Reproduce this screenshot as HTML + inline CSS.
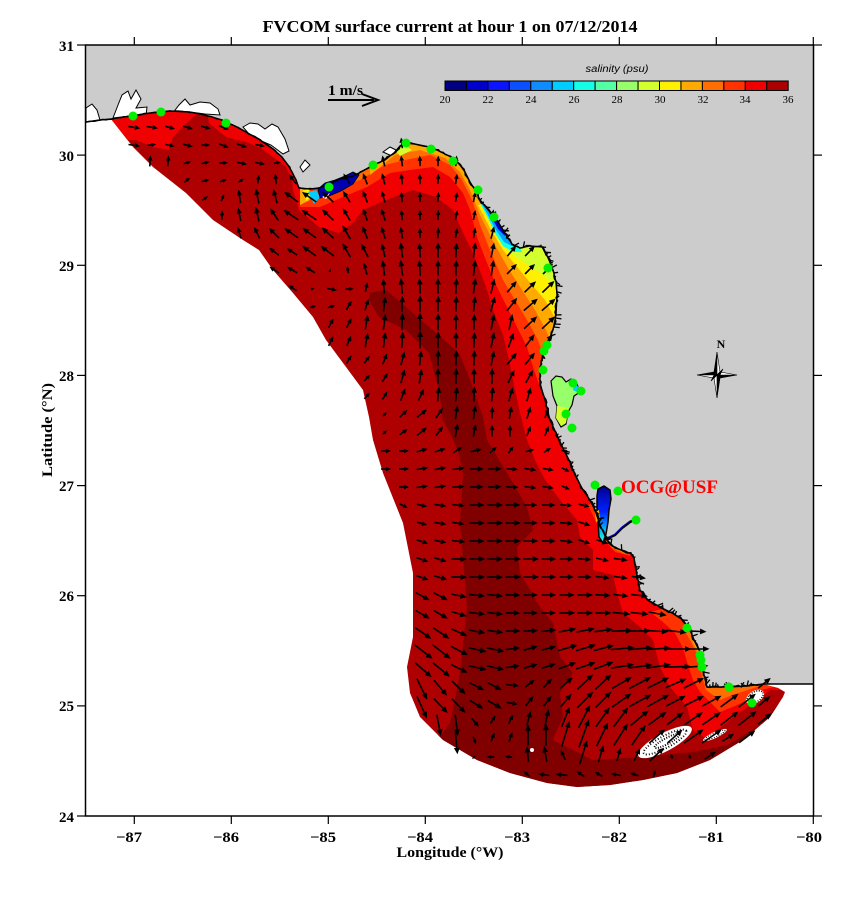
<!DOCTYPE html>
<html>
<head>
<meta charset="utf-8">
<style>
html,body{margin:0;padding:0;background:#fff;}
svg{display:block;}
text{font-family:"Liberation Serif",serif;}
.sans{font-family:"Liberation Sans",sans-serif;}
</style>
</head>
<body>
<svg id="svg" width="857" height="907" viewBox="0 0 857 907" xmlns="http://www.w3.org/2000/svg">
<defs>
<clipPath id="domclip">
<polygon points="111,119 130,116 150,113 170,111 190,112 205,115 219,119 235,126 246,132 260,140 273,149 282,157 288,165 292,172 296,180 299,188 310,189 319,188 329,184 340,179 353,176 363,171 373,165 385,160 395,152 400,146 405,143 415,144 425,146 433,148 443,153 453,158 460,165 465,172 470,182 475,190 480,200 490,212 500,225 506,235 512,244 520,248 530,246 543,247 549,260 553,270 556,282 557,295 556,315 553,330 547,345 542,358 540,370 540,385 545,400 550,420 557,435 563,448 570,462 575,475 583,490 590,500 595,510 600,525 607,540 615,548 625,551 633,555 636,570 640,590 648,600 660,607 672,613 683,620 690,630 695,642 700,652 703,663 704,675 707,687 727,687 747,686 763,684 770,686 778,688 785,692 783,697 770,717 743,740 710,760 677,773 643,780 610,785 577,787 547,783 510,773 477,760 443,740 420,717 410,693 407,667 413,637 413,573 403,523 383,473 373,440 369,417 363,390 346,367 326,340 313,317 293,293 273,270 259,250 243,240 213,220 186,193 153,167 133,147"/>
</clipPath>
<clipPath id="plotclip"><rect x="86" y="45" width="727" height="771"/></clipPath>
<linearGradient id="chg" x1="0" y1="0" x2="0" y2="1">
<stop offset="0" stop-color="#000090"/>
<stop offset="0.45" stop-color="#0020ff"/>
<stop offset="0.75" stop-color="#00b0ff"/>
<stop offset="1" stop-color="#30ffd0"/>
</linearGradient>
</defs>

<text x="450" y="32" font-size="17" font-weight="bold" text-anchor="middle" textLength="375" lengthAdjust="spacingAndGlyphs">FVCOM surface current at hour 1 on 07/12/2014</text>

<g clip-path="url(#plotclip)">
<polygon points="86,45 86,122 100,120 111,119 130,116 150,113 170,111 190,112 205,115 219,119 235,126 246,132 260,140 273,149 282,157 288,165 292,172 296,180 299,188 310,189 319,188 329,184 340,179 353,176 363,171 373,165 385,160 395,152 400,146 405,143 415,144 425,146 433,148 443,153 453,158 460,165 465,172 470,182 475,190 480,200 490,212 500,225 506,235 512,244 520,248 530,246 543,247 549,260 553,270 556,282 557,295 556,315 553,330 547,345 542,358 540,370 540,385 545,400 550,420 557,435 563,448 570,462 575,475 583,490 590,500 595,510 600,525 607,540 615,548 625,551 633,555 636,570 640,590 648,600 660,607 672,613 683,620 690,630 695,642 700,652 703,663 704,675 707,687 727,687 747,686 763,684 813,684 813,45" fill="#cccccc"/>

<g fill="#fff" stroke="#000" stroke-width="1">
<polygon points="86,108 92,104 97,110 100,120 86,122"/>
<polygon points="113,118 118,105 122,95 128,91 131,99 136,90 141,99 136,108 147,107 146,116 130,116"/>
<polygon points="172,114 179,105 185,99 190,105 200,102 210,103 218,109 220,115 205,114 190,112"/>
<polygon points="243,127 250,123 258,124 265,129 272,124 278,127 285,139 289,151 283,154 271,145 259,140 249,134"/>
<polygon points="300,167 305,160 310,165 303,172"/>
<polygon points="383,152 390,147 396,150 392,156"/>
</g>

<g clip-path="url(#domclip)">
<rect x="86" y="45" width="727" height="771" fill="#ae0000"/>
<polygon fill="#800000" points="369,293 386,290 406,307 436,333 459,353 469,377 483,417 487,440 507,473 527,507 533,530 517,547 520,573 540,607 553,623 560,657 573,673 560,693 563,717 553,740 593,760 643,757 693,752 727,745 760,725 780,702 790,695 800,800 400,800 415,722 440,736 450,723 460,673 467,607 460,523 463,473 458,450 443,420 439,390 429,353 406,330 379,317 369,300"/>
<polygon fill="#f00000" points="100,105 200,105 200,112 193,117 183,127 173,137 169,150 153,147 136,140 119,140 108,128"/>
<polygon fill="#f00000" points="205,100 209,123 226,137 246,142 259,147 273,157 286,167 292,180 293,190 299,210 319,227 339,233 353,223 363,210 386,200 413,190 436,197 453,210 463,233 473,253 486,287 493,310 503,335 509,360 515,390 520,413 527,440 535,460 545,480 560,500 577,520 580,537 593,550 593,570 613,575 617,593 623,613 640,627 653,640 660,667 670,687 687,707 693,730 705,738 720,728 740,712 755,702 770,690 820,690 820,100"/>
<polygon fill="#ff3200" points="300,183 300,207 320,207 343,197 367,187 390,173 410,170 433,167 450,177 463,193 470,210 477,237 487,263 497,287 507,307 517,327 527,347 533,367 540,387 600,387 600,100 300,100"/>
<polygon fill="#ff3200" points="650,612 663,622 675,633 683,648 688,665 693,680 700,692 720,712 735,706 750,699 762,690 800,680 700,600"/>
<polygon fill="#ff3200" points="588,505 596,522 604,540 615,552 630,556 640,540 600,500"/>
<polygon fill="#ff6e00" points="330,190 360,180 385,165 405,160 430,155 450,165 462,180 472,200 480,225 492,255 503,280 515,300 527,320 538,340 545,360 600,360 600,100 330,100"/>
<polygon fill="#ff6e00" points="683,628 690,640 696,652 700,664 702,676 706,690 720,700 735,694 760,686 710,620"/>
<polygon fill="#ff6e00" points="597,520 603,535 612,548 625,554 630,545 605,515"/>
<polygon fill="#ffaa00" points="370,175 395,155 420,150 445,158 460,172 470,190 480,215 495,245 508,268 522,290 535,310 546,330 552,345 600,345 600,100 370,100"/>
<polygon fill="#ffaa00" points="692,640 698,652 702,664 704,676 720,676 700,630"/>
<polygon fill="#ffaa00" points="300,186 306,186 310,200 300,205"/>
<polygon fill="#fff000" points="478,205 490,228 503,250 518,268 532,285 545,300 555,318 600,318 600,180"/>
<polygon fill="#fff000" points="698,650 702,660 703,670 712,668 705,645"/>
<polygon fill="#fff000" points="303,190 309,188 311,197 306,201"/>
<polygon fill="#d2ff2d" points="498,240 513,255 528,265 543,275 556,288 600,288 600,230"/>
<polygon fill="#d2ff2d" points="395,150 405,145 412,150 400,156"/>
<polygon fill="#14ffe6" points="480,203 488,218 495,233 503,246 513,252 522,252 512,232 502,215 492,203"/>
<polygon fill="#00a0ff" points="482,204 489,217 496,230 504,242 512,246 506,230 498,215 490,204"/>
<polygon fill="#0000cd" points="486,206 492,218 498,229 505,236 502,222 496,210"/>
<polygon fill="#00cdff" points="308,192 316,190 320,197 314,204"/>
</g>

<polygon fill="#0000b0" stroke="#000" stroke-width="0.8" points="318,189 325,183 335,180 345,176 353,172 359,175 353,184 341,191 329,196 320,198"/>
<polygon fill="#fff" points="322,197 330,193 326,199"/>
<!-- Tampa bay -->
<polygon fill="#96ff69" stroke="#000" stroke-width="1.2" points="551,381 556,376 562,377 566,382 571,379 577,384 580,392 574,396 572,405 568,412 566,424 561,427 556,418 557,406 553,396"/>
<polygon fill="#d2ff2d" points="557,406 569,408 566,423 561,426 556,418"/>
<polygon fill="#00cdff" points="574,384 579,387 577,392 573,390"/>
<!-- Charlotte harbor -->
<polygon fill="url(#chg)" stroke="#000" stroke-width="1.5" points="598,489 604,486 610,490 611,499 609,510 608,522 606,534 603,543 599,537 598,522 597,508 597,496"/>
<polyline fill="none" stroke="#000" stroke-width="2.5" points="604,540 615,535 622,528 630,522 636,519"/>
<polyline fill="none" stroke="#0000cd" stroke-width="1" points="606,539 615,534 622,527 630,521"/>
<polygon fill="#ffaa00" points="595,512 599,510 600,520 596,522"/>

<g fill="#fff">
<ellipse cx="665" cy="742" rx="30" ry="9" transform="rotate(-28 665 742)"/>
<ellipse cx="715" cy="735" rx="13" ry="3" transform="rotate(-25 715 735)"/>
<ellipse cx="755" cy="697" rx="10" ry="6" transform="rotate(-30 755 697)"/>
<circle cx="532" cy="750" r="2"/>
</g>
<g fill="none" stroke="#000">
<ellipse cx="665" cy="742" rx="24" ry="6" transform="rotate(-28 665 742)" stroke-width="2" stroke-dasharray="1 2"/>
<ellipse cx="667" cy="741" rx="14" ry="3" transform="rotate(-28 667 741)" stroke-width="2" stroke-dasharray="1 1.5"/>
<ellipse cx="715" cy="735" rx="11" ry="2" transform="rotate(-25 715 735)" stroke-width="1" stroke-dasharray="1 1.5"/>
<ellipse cx="755" cy="697" rx="9" ry="5" transform="rotate(-30 755 697)" stroke-width="1.5" stroke-dasharray="1 1.5"/>
</g>

<!-- coastline (jagged generated) -->
<polyline id="coastbase" fill="none" stroke="#000" stroke-width="1.4" stroke-linejoin="round" points="86,122 100,120 111,119 130,116 150,113 170,111 190,112 205,115 219,119 235,126 246,132 260,140 273,149 282,157 288,165 292,172 296,180 299,188 310,189 319,188 329,184 340,179 353,176 363,171 373,165 385,160 395,152 400,146 405,143 415,144 425,146 433,148 443,153 453,158 460,165 465,172 470,182 475,190 480,200 490,212 500,225 506,235 512,244 520,248 530,246 543,247 549,260 553,270 556,282 557,295 556,315 553,330 547,345 542,358 540,370 540,385 545,400 550,420 557,435 563,448 570,462 575,475 583,490 590,500 595,510 600,525 607,540 615,548 625,551 633,555 636,570 640,590 648,600 660,607 672,613 683,620 690,630 695,642 700,652 703,663 704,675 707,687 727,687 747,686 763,684 813,684"/>
<g id="coastjag"></g>

<g id="arrows"></g>

<g fill="#00f000">
<circle cx="133" cy="116" r="4.5"/><circle cx="161" cy="112" r="4.5"/><circle cx="226" cy="123" r="4.5"/>
<circle cx="329" cy="187" r="4.5"/><circle cx="373" cy="165" r="4.5"/><circle cx="406" cy="143" r="4.5"/>
<circle cx="431" cy="149" r="4.5"/><circle cx="453" cy="161" r="4.5"/><circle cx="478" cy="190" r="4.5"/>
<circle cx="494" cy="217" r="4.5"/><circle cx="548" cy="268" r="4.5"/><circle cx="547" cy="345" r="4.5"/>
<circle cx="544" cy="351" r="4.5"/><circle cx="543" cy="370" r="4.5"/><circle cx="573" cy="383" r="4.5"/>
<circle cx="581" cy="391" r="4.5"/><circle cx="566" cy="414" r="4.5"/><circle cx="572" cy="428" r="4.5"/>
<circle cx="595" cy="485" r="4.5"/><circle cx="618" cy="491" r="4.5"/><circle cx="636" cy="520" r="4.5"/>
<circle cx="687" cy="628" r="4.5"/><circle cx="700" cy="655" r="4.5"/><circle cx="701" cy="660" r="4.5"/>
<circle cx="702" cy="667" r="4.5"/><circle cx="729" cy="687" r="4.5"/><circle cx="752" cy="703" r="4.5"/>
</g>
</g>

<text x="621" y="493" font-size="19" font-weight="bold" fill="#ff0000" textLength="97" lengthAdjust="spacingAndGlyphs">OCG@USF</text>

<text x="328" y="95" font-size="15" font-weight="bold" textLength="35" lengthAdjust="spacingAndGlyphs">1 m/s</text>
<line x1="328" y1="100" x2="374" y2="100" stroke="#000" stroke-width="2"/>
<polyline points="362,94 378,100 362,106" fill="none" stroke="#000" stroke-width="2"/>

<text x="617" y="72" font-size="10" font-style="italic" class="sans" text-anchor="middle" textLength="63" lengthAdjust="spacingAndGlyphs">salinity (psu)</text>
<g stroke="#000" stroke-width="1">
<rect x="445" y="81" width="21.45" height="9.5" fill="#000080"/>
<rect x="466.45" y="81" width="21.45" height="9.5" fill="#0000cd"/>
<rect x="487.9" y="81" width="21.45" height="9.5" fill="#0a14ff"/>
<rect x="509.35" y="81" width="21.45" height="9.5" fill="#0a50ff"/>
<rect x="530.8" y="81" width="21.45" height="9.5" fill="#0f8cff"/>
<rect x="552.25" y="81" width="21.45" height="9.5" fill="#00cdff"/>
<rect x="573.7" y="81" width="21.45" height="9.5" fill="#14ffe6"/>
<rect x="595.15" y="81" width="21.45" height="9.5" fill="#55ffa5"/>
<rect x="616.6" y="81" width="21.45" height="9.5" fill="#96ff69"/>
<rect x="638.05" y="81" width="21.45" height="9.5" fill="#d2ff2d"/>
<rect x="659.5" y="81" width="21.45" height="9.5" fill="#fff000"/>
<rect x="680.95" y="81" width="21.45" height="9.5" fill="#ffaa00"/>
<rect x="702.4" y="81" width="21.45" height="9.5" fill="#ff6e00"/>
<rect x="723.85" y="81" width="21.45" height="9.5" fill="#ff3200"/>
<rect x="745.3" y="81" width="21.45" height="9.5" fill="#f00000"/>
<rect x="766.75" y="81" width="21.45" height="9.5" fill="#aa0000"/>
</g>
<g font-size="11" class="sans" text-anchor="middle">
<text x="445" y="103">20</text><text x="488" y="103">22</text><text x="531" y="103">24</text>
<text x="574" y="103">26</text><text x="617" y="103">28</text><text x="660" y="103">30</text>
<text x="703" y="103">32</text><text x="745" y="103">34</text><text x="788" y="103">36</text>
</g>

<g stroke="#000" stroke-width="0.6">
<polygon points="717,352 714,372 717,375" fill="#000"/>
<polygon points="717,352 720,372 717,375" fill="#fff"/>
<polygon points="717,398 720,378 717,375" fill="#000"/>
<polygon points="717,398 714,378 717,375" fill="#fff"/>
<polygon points="737,375 720,378 717,375" fill="#000"/>
<polygon points="737,375 720,372 717,375" fill="#fff"/>
<polygon points="697,375 714,372 717,375" fill="#000"/>
<polygon points="697,375 714,378 717,375" fill="#fff"/>
<polygon points="717,375 723,369 720,375" fill="#000"/>
<polygon points="717,375 711,381 714,375" fill="#000"/>
</g>
<text x="721" y="348" font-size="12" font-weight="bold" text-anchor="middle">N</text>

<g stroke="#000" stroke-width="1.5" fill="none">
<rect x="85.5" y="45" width="728" height="771"/>
</g>
<g stroke="#000" stroke-width="1.2">
<line x1="134.3" y1="816" x2="134.3" y2="824"/><line x1="231.3" y1="816" x2="231.3" y2="824"/>
<line x1="328.3" y1="816" x2="328.3" y2="824"/><line x1="425.3" y1="816" x2="425.3" y2="824"/>
<line x1="522.3" y1="816" x2="522.3" y2="824"/><line x1="619.3" y1="816" x2="619.3" y2="824"/>
<line x1="716.3" y1="816" x2="716.3" y2="824"/><line x1="813.3" y1="816" x2="813.3" y2="824"/>
<line x1="134.3" y1="45" x2="134.3" y2="37"/><line x1="231.3" y1="45" x2="231.3" y2="37"/>
<line x1="328.3" y1="45" x2="328.3" y2="37"/><line x1="425.3" y1="45" x2="425.3" y2="37"/>
<line x1="522.3" y1="45" x2="522.3" y2="37"/><line x1="619.3" y1="45" x2="619.3" y2="37"/>
<line x1="716.3" y1="45" x2="716.3" y2="37"/><line x1="813.3" y1="45" x2="813.3" y2="37"/>
<line x1="77" y1="45" x2="85" y2="45"/><line x1="77" y1="155.1" x2="85" y2="155.1"/>
<line x1="77" y1="265.3" x2="85" y2="265.3"/><line x1="77" y1="375.4" x2="85" y2="375.4"/>
<line x1="77" y1="485.6" x2="85" y2="485.6"/><line x1="77" y1="595.7" x2="85" y2="595.7"/>
<line x1="77" y1="705.9" x2="85" y2="705.9"/><line x1="77" y1="816" x2="85" y2="816"/>
<line x1="814" y1="45" x2="822" y2="45"/><line x1="814" y1="155.1" x2="822" y2="155.1"/>
<line x1="814" y1="265.3" x2="822" y2="265.3"/><line x1="814" y1="375.4" x2="822" y2="375.4"/>
<line x1="814" y1="485.6" x2="822" y2="485.6"/><line x1="814" y1="595.7" x2="822" y2="595.7"/>
<line x1="814" y1="705.9" x2="822" y2="705.9"/><line x1="814" y1="816" x2="822" y2="816"/>
</g>
<g font-size="15" font-weight="bold" text-anchor="middle">
<text x="129" y="842" textLength="26" lengthAdjust="spacingAndGlyphs">−87</text>
<text x="226" y="842" textLength="26" lengthAdjust="spacingAndGlyphs">−86</text>
<text x="323" y="842" textLength="26" lengthAdjust="spacingAndGlyphs">−85</text>
<text x="420" y="842" textLength="26" lengthAdjust="spacingAndGlyphs">−84</text>
<text x="517" y="842" textLength="26" lengthAdjust="spacingAndGlyphs">−83</text>
<text x="614" y="842" textLength="26" lengthAdjust="spacingAndGlyphs">−82</text>
<text x="711" y="842" textLength="26" lengthAdjust="spacingAndGlyphs">−81</text>
<text x="809" y="842" textLength="26" lengthAdjust="spacingAndGlyphs">−80</text>
</g>
<g font-size="15" font-weight="bold" text-anchor="end">
<text x="74" y="51">31</text><text x="74" y="161">30</text><text x="74" y="271">29</text>
<text x="74" y="381">28</text><text x="74" y="491">27</text><text x="74" y="601">26</text>
<text x="74" y="711">25</text><text x="74" y="822">24</text>
</g>
<text x="450" y="857" font-size="15" font-weight="bold" text-anchor="middle" textLength="107" lengthAdjust="spacingAndGlyphs">Longitude (°W)</text>
<text transform="translate(52,430) rotate(-90)" font-size="15" font-weight="bold" text-anchor="middle" textLength="94" lengthAdjust="spacingAndGlyphs">Latitude (°N)</text>
</svg>

<script>
(function(){
var ns='http://www.w3.org/2000/svg';
var seed=12345;function rnd(){seed=(seed*1103515245+12345)&0x7fffffff;return seed/0x7fffffff;}
function f(n){return n.toFixed(1);}
/* jagged coastline */
var cpts=document.getElementById('coastbase').getAttribute('points').trim().split(/\s+/).map(function(p){var a=p.split(',');return [+a[0],+a[1]];});
var jd='',tk='';
for(var i=0;i<cpts.length-1;i++){
  var a=cpts[i],b=cpts[i+1];
  if(a[1]>=683 && b[1]>=683 && a[0]>=763) continue;
  var dx=b[0]-a[0],dy=b[1]-a[1];var L=Math.sqrt(dx*dx+dy*dy);var n=Math.max(1,Math.round(L/3));
  var nx=-dy/L,ny=dx/L;
  var rough = (a[0]>380 && a[1]<700) ? 1 : 0.5;
  var mang = ((a[0]>470 && a[1]<360) || (a[1]>420 && a[0]>550)) ? 1 : 0;
  for(var k=0;k<n;k++){
    var t=k/n;var x=a[0]+dx*t,y=a[1]+dy*t;
    var o=(rnd()-0.5)*2.5*rough;
    jd+=(jd?'L':'M')+f(x+nx*o)+','+f(y+ny*o);
    if(mang && rnd()<0.55){
      var len=1.5+rnd()*5;var ang=(rnd()-0.5)*1.6;
      var ex=x+(-nx*Math.cos(ang)+ny*Math.sin(ang))*len, ey=y+(-ny*Math.cos(ang)-nx*Math.sin(ang))*len;
      tk+='M'+f(x)+','+f(y)+'L'+f(ex)+','+f(ey);
    }
  }
}
var cj=document.getElementById('coastjag');
var pj=document.createElementNS(ns,'path');pj.setAttribute('d',jd);pj.setAttribute('fill','none');pj.setAttribute('stroke','#000');pj.setAttribute('stroke-width','1.3');
var pt=document.createElementNS(ns,'path');pt.setAttribute('d',tk);pt.setAttribute('fill','none');pt.setAttribute('stroke','#000');pt.setAttribute('stroke-width','1.3');
cj.appendChild(pj);cj.appendChild(pt);

/* arrows */
var ptsStr = document.querySelector('#domclip polygon').getAttribute('points');
var poly = ptsStr.trim().split(/\s+/).map(function(p){var a=p.split(',');return [+a[0],+a[1]];});
function inside(x,y){
  var c=false;
  for(var i=0,j=poly.length-1;i<poly.length;j=i++){
    var xi=poly[i][0],yi=poly[i][1],xj=poly[j][0],yj=poly[j][1];
    if(((yi>y)!=(yj>y)) && (x < (xj-xi)*(y-yi)/(yj-yi)+xi)) c=!c;
  }
  return c;
}
var A=[
[130,130,12,2],[180,135,10,3],[230,135,10,4],[160,175,0,-12],[200,165,8,-2],[250,160,10,2],
[260,200,-3,-15],[300,215,-15,-10],[320,250,-14,-10],[350,245,-8,-14],[300,270,-10,-6],[330,290,10,2],
[380,230,-4,-12],[420,220,0,-10],[460,220,2,-10],[400,270,-2,-16],[440,270,0,-16],[480,270,2,-16],
[520,270,10,-10],[530,310,14,-12],[345,320,5,-10],[380,330,2,-16],[420,330,0,-18],[460,330,0,-16],
[500,330,3,-16],[520,360,10,-12],[370,380,6,-6],[400,380,4,-14],[440,380,0,-16],[480,380,0,-16],
[520,400,4,-14],[380,420,4,-4],[420,420,10,-8],[460,420,2,-14],[500,430,0,-12],[540,430,4,-10],
[390,460,10,0],[430,470,12,-2],[480,470,14,0],[530,470,12,2],[570,470,8,4],[400,520,8,4],
[440,520,12,2],[490,520,16,0],[540,520,14,0],[590,540,12,4],[420,560,12,4],[470,570,16,0],
[520,570,16,0],[570,570,14,0],[620,580,14,2],[430,610,14,8],[480,610,16,2],[530,610,14,0],
[580,610,16,0],[630,610,18,2],[670,610,18,4],[430,650,18,14],[480,660,18,4],[530,660,14,-4],
[580,650,20,-6],[630,650,24,-2],[680,655,28,0],[420,700,10,22],[445,700,14,14],[490,700,14,8],
[540,700,8,-10],[590,700,16,-16],[640,700,22,-12],[690,690,20,-10],[420,735,0,28],[450,730,2,22],
[500,730,4,-10],[540,740,0,-22],[580,740,10,-28],[620,740,14,-22],[660,745,16,-14],[700,740,20,-14],
[740,720,18,-14],[770,705,12,-10],[500,765,-8,0],[560,775,-12,-1],[620,775,-10,-2],[680,765,-6,-3],[720,752,10,-6]
];
function field(x,y){
  var su=0,sv=0,sw=0;
  for(var i=0;i<A.length;i++){
    var dx=x-A[i][0],dy=y-A[i][1];var d2=dx*dx+dy*dy;
    var w=1/(d2*d2+1);
    su+=w*A[i][2];sv+=w*A[i][3];sw+=w;
  }
  return [su/sw,sv/sw];
}
var shaft='',head='';
for(var y=127;y<=792;y+=18){
  for(var x=96;x<=800;x+=18){
    if(!inside(x,y)) continue;
    var v=field(x,y);var u=v[0],w=v[1];
    var L=Math.sqrt(u*u+w*w);
    if(L<1.5){head+='M'+f(x-1)+','+f(y-1)+'h2v2h-2z';continue;}
    var ux=u/L,uy=w/L;
    var sx=x-u*0.3,sy=y-w*0.3;
    var tx=sx+u,ty=sy+w;
    var h=Math.min(6.5,2.5+L*0.25),hw=h*0.45;
    var bx=tx-ux*h,by=ty-uy*h;
    shaft+='M'+f(sx)+','+f(sy)+'L'+f(bx+ux*1)+','+f(by+uy*1);
    head+='M'+f(tx)+','+f(ty)+'L'+f(bx-uy*hw)+','+f(by+ux*hw)+'L'+f(bx+uy*hw)+','+f(by-ux*hw)+'Z';
  }
}
var g=document.getElementById('arrows');
var p1=document.createElementNS(ns,'path');
p1.setAttribute('d',shaft);p1.setAttribute('stroke','#000');p1.setAttribute('stroke-width','1.6');p1.setAttribute('fill','none');
var p2=document.createElementNS(ns,'path');
p2.setAttribute('d',head);p2.setAttribute('fill','#000');
g.appendChild(p1);g.appendChild(p2);
})();
</script>
</body>
</html>
